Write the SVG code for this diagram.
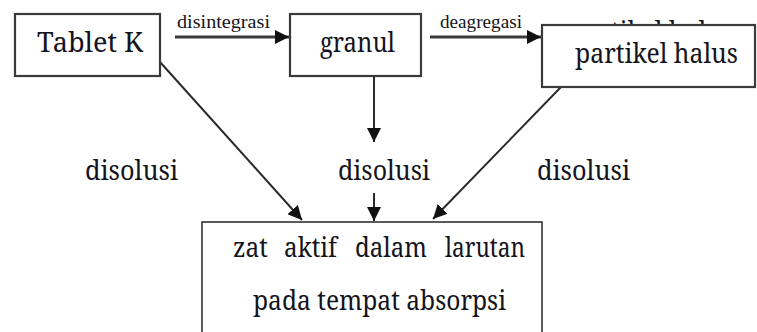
<svg xmlns="http://www.w3.org/2000/svg" width="757" height="332" viewBox="0 0 757 332">
  <style>
    .box { fill: #ffffff; stroke: #3a3a3a; stroke-width: 2.2; }
    .box-thin { fill: #ffffff; stroke: #333333; stroke-width: 1.6; }
    .lbl { font-family: "Noto Serif", "Liberation Serif", serif; font-size: 28px; fill: #141420; }
    .small { font-family: "Liberation Serif", "Noto Serif", serif; font-size: 18px; fill: #141420; }
    .conn { stroke: #2a2a2a; stroke-width: 2; fill: none; marker-end: url(#head); }
    .conn-h { stroke: #3a3a3a; stroke-width: 3; fill: none; marker-end: url(#head); }
  </style>
  <defs>
    <marker id="head" markerUnits="userSpaceOnUse" markerWidth="15" markerHeight="14" refX="14" refY="7" orient="auto">
      <path d="M0,0 L14,7 L0,14 z" fill="#111111"/>
    </marker>
  </defs>

  <rect width="757" height="332" fill="#ffffff"/>

  <!-- earlier label left underneath the particle box -->
  <text class="lbl" x="570" y="41" textLength="163" lengthAdjust="spacingAndGlyphs">partikel halus</text>

  <g id="connectors">
    <line class="conn-h" x1="175" y1="37" x2="289" y2="37"/>
    <line class="conn-h" x1="430" y1="37" x2="541" y2="37"/>
    <line class="conn" x1="160" y1="62" x2="302" y2="220"/>
    <line class="conn" x1="374" y1="76" x2="374" y2="142"/>
    <line class="conn" x1="374" y1="193" x2="374" y2="221"/>
    <line class="conn" x1="561" y1="87" x2="433" y2="219"/>
    <text class="small" x="177" y="28" textLength="93" lengthAdjust="spacingAndGlyphs">disintegrasi</text>
    <text class="small" x="440" y="28" textLength="82" lengthAdjust="spacingAndGlyphs">deagregasi</text>
    <text class="lbl" x="85" y="180" textLength="93" lengthAdjust="spacingAndGlyphs">disolusi</text>
    <text class="lbl" x="338" y="180" textLength="92" lengthAdjust="spacingAndGlyphs">disolusi</text>
    <text class="lbl" x="537" y="180" textLength="93" lengthAdjust="spacingAndGlyphs">disolusi</text>
  </g>

  <g id="tablet">
    <rect class="box" x="15" y="14" width="145" height="62"/>
    <text class="lbl" x="37" y="52" textLength="106" lengthAdjust="spacingAndGlyphs">Tablet K</text>
  </g>

  <g id="granul">
    <rect class="box" x="290" y="14" width="131" height="62"/>
    <text class="lbl" x="320" y="52" textLength="75" lengthAdjust="spacingAndGlyphs">granul</text>
  </g>

  <g id="partikel">
    <rect class="box" x="542" y="25" width="213" height="62"/>
    <text class="lbl" x="575" y="63" textLength="163" lengthAdjust="spacingAndGlyphs">partikel halus</text>
  </g>

  <g id="zat-aktif">
    <rect class="box-thin" x="202" y="222" width="340" height="120"/>
    <text class="lbl" x="233" y="257" textLength="35" lengthAdjust="spacingAndGlyphs">zat</text>
    <text class="lbl" x="284" y="257" textLength="53" lengthAdjust="spacingAndGlyphs">aktif</text>
    <text class="lbl" x="355" y="257" textLength="72" lengthAdjust="spacingAndGlyphs">dalam</text>
    <text class="lbl" x="445" y="257" textLength="80" lengthAdjust="spacingAndGlyphs">larutan</text>
    <text class="lbl" x="253" y="310" textLength="253" lengthAdjust="spacingAndGlyphs">pada tempat absorpsi</text>
  </g>
</svg>
